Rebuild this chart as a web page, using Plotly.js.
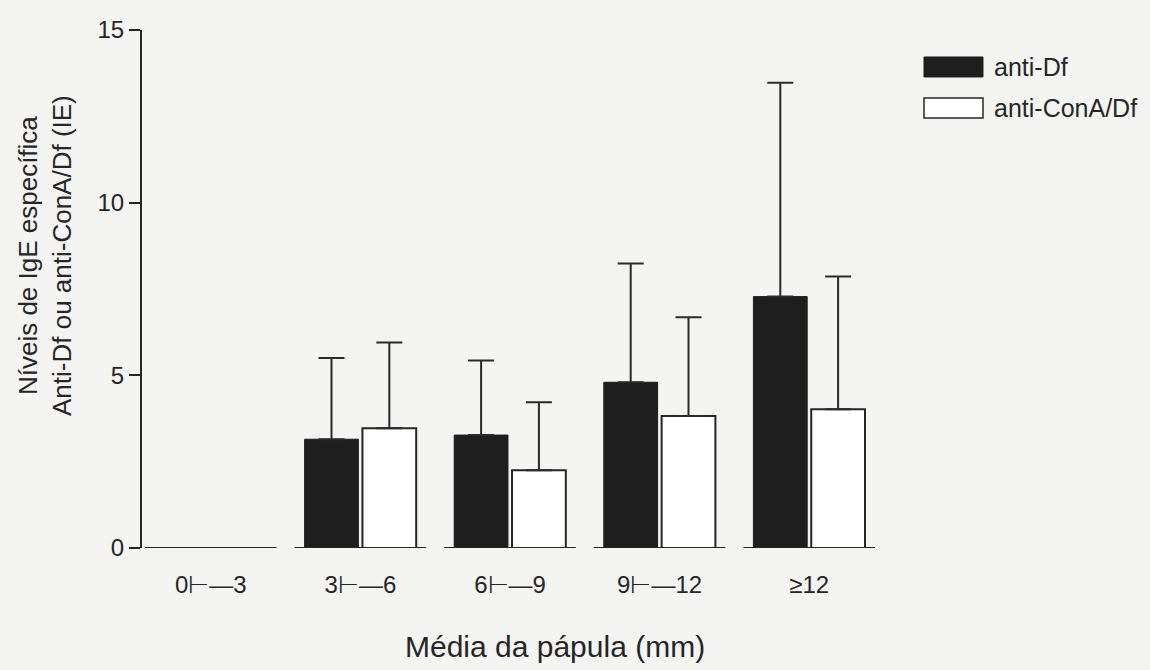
<!DOCTYPE html>
<html>
<head>
<meta charset="utf-8">
<script src="https://cdn.plot.ly/plotly-3.0.1.min.js"></script>
<style>html,body{margin:0;padding:0;background:#f4f4f2;}#chart{width:1150px;height:670px;}</style>
</head>
<body>
<div id="chart"></div>
<script>
// Data
const categories = ["0\u22A2\u20143", "3\u22A2\u20146", "6\u22A2\u20149", "9\u22A2\u201412", "\u226512"];
const seriesNames = ["anti-Df", "anti-ConA/Df"];
const antiDf = [0, 3.15, 3.27, 4.80, 7.28];
const antiDfErr = [0, 2.35, 2.16, 3.44, 6.19];
const antiConA = [0, 3.47, 2.25, 3.82, 4.02];
const antiConAErr = [0, 2.48, 1.97, 2.86, 3.84];
const yTicks = [0, 5, 10, 15];
const xTitle = "Média da pápula (mm)";
const yTitleLines = ["Níveis de IgE específica", "Anti-Df ou anti-ConA/Df (IE)"];

const ink = '#262626';
const font = "'Liberation Sans', Arial, sans-serif";
const zeros = categories.map(() => 0);

const traces = [
  {
    type: 'bar', name: seriesNames[0], x: categories, y: antiDf,
    marker: {color: '#1e1e1e', line: {color: '#1e1e1e', width: 1}},
    error_y: {type: 'data', symmetric: false, array: antiDfErr, arrayminus: zeros, color: '#2a2a2a', thickness: 2, width: 13},
    showlegend: false, hoverinfo: 'skip'
  },
  {
    type: 'bar', name: seriesNames[1], x: categories, y: antiConA,
    marker: {color: '#ffffff', line: {color: ink, width: 2}},
    error_y: {type: 'data', symmetric: false, array: antiConAErr, arrayminus: zeros, color: '#2a2a2a', thickness: 2, width: 13},
    showlegend: false, hoverinfo: 'skip'
  }
];

// per-group baseline segments
const shapes = categories.map((c, i) => ({
  type: 'line', xref: 'x', yref: 'y', x0: i - 0.44, x1: i + 0.44, y0: 0, y1: 0,
  line: {color: ink, width: 2}
}));
// legend swatches
shapes.push({type: 'rect', xref: 'paper', yref: 'paper', x0: 1.0539, x1: 1.1334, y0: 0.9093, y1: 0.9479,
  fillcolor: '#1e1e1e', line: {color: '#1e1e1e', width: 1}});
shapes.push({type: 'rect', xref: 'paper', yref: 'paper', x0: 1.0539, x1: 1.1334, y0: 0.8301, y1: 0.8687,
  fillcolor: '#ffffff', line: {color: ink, width: 1.5}});

const annotations = [
  {xref: 'paper', yref: 'paper', x: 1.1456, y: 0.9286, xanchor: 'left', yanchor: 'middle', showarrow: false,
   text: seriesNames[0], font: {family: font, size: 25, color: ink}},
  {xref: 'paper', yref: 'paper', x: 1.1456, y: 0.8494, xanchor: 'left', yanchor: 'middle', showarrow: false,
   text: seriesNames[1], font: {family: font, size: 25, color: ink}},
  {xref: 'paper', yref: 'paper', x: 0, y: 0.5637, xshift: -97, xanchor: 'center', yanchor: 'middle', showarrow: false,
   textangle: -90, text: yTitleLines.join('<br>'), font: {family: font, size: 26, color: ink}},
  {xref: 'paper', yref: 'paper', x: 0.5566, y: 0, yshift: -98, xanchor: 'center', yanchor: 'middle', showarrow: false,
   text: xTitle, font: {family: font, size: 30, color: ink}}
];

const layout = {
  width: 1150, height: 670,
  margin: {l: 142, r: 266, t: 30, b: 122},
  paper_bgcolor: '#f4f4f2', plot_bgcolor: 'rgba(0,0,0,0)',
  barmode: 'group', bargap: 0.227, bargroupgap: 0.07,
  font: {family: font, color: ink},
  xaxis: {
    type: 'category', range: [-0.46, 4.5], showline: false, showgrid: false, zeroline: false,
    ticks: '', tickfont: {family: font, size: 24, color: ink}, ticklabelstandoff: 20
  },
  yaxis: {
    range: [0, 15], tickvals: yTicks, showline: true, linecolor: ink, linewidth: 2,
    ticks: 'outside', ticklen: 11, tickwidth: 2, tickcolor: ink, showgrid: false, zeroline: false,
    tickfont: {family: font, size: 24, color: ink}
  },
  shapes: shapes,
  annotations: annotations
};

Plotly.newPlot('chart', traces, layout, {displayModeBar: false, staticPlot: true});
</script>
</body>
</html>
